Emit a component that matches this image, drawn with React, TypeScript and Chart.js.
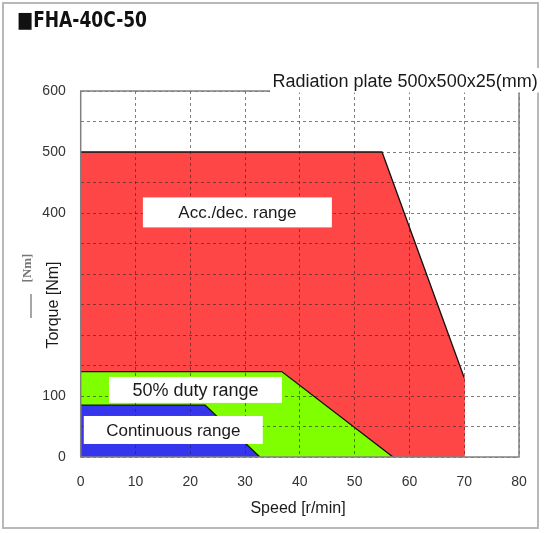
import React, { useEffect, useRef } from 'react';
import { Chart, registerables } from 'chart.js';

Chart.register(...registerables);

// Speed [r/min] vs Torque [Nm] boundaries of each operating range
const accSpeed = [0, 55, 70, 70];
const accTorque = [500, 500, 130, 0];
const dutySpeed = [0, 36.7, 57];
const dutyTorque = [140, 140, 0];
const contSpeed = [0, 22.7, 32.7];
const contTorque = [85, 85, 0];

const xTickValues = [0, 10, 20, 30, 40, 50, 60, 70, 80];
// 200 and 300 are hidden behind the axis title in the reference
const yTickLabels = [0, 100, 400, 500, 600];

const chartTitle = '■FHA-40C-50';
const noteText = 'Radiation plate 500x500x25(mm)';
const xTitle = 'Speed [r/min]';
const yTitle = 'Torque [Nm]';
const rangeLabels = ['Acc./dec. range', '50% duty range', 'Continuous range'];

const RED = '#ff4646';
const GREEN = '#80ff00';
const BLUE = '#3535ee';
const SANS = '"Liberation Sans", Arial, sans-serif';

function toPoints(xs: number[], ys: number[]) {
  return xs.map((x, i) => ({ x, y: ys[i] }));
}

export default function App() {
  const ref = useRef<HTMLCanvasElement | null>(null);

  useEffect(() => {
    if (!ref.current) return;

    const overlay = {
      id: 'overlay',
      afterDraw(chart: any) {
        const { ctx, chartArea: a, scales } = chart;
        const xs = scales.x;
        const ys = scales.y;
        ctx.save();
        ctx.setLineDash([]);
        // plot frame
        ctx.strokeStyle = '#808080';
        ctx.lineWidth = 1.5;
        ctx.strokeRect(a.left, a.top, a.right - a.left, a.bottom - a.top);
        // outer frame
        ctx.strokeStyle = '#b8b8b8';
        ctx.lineWidth = 2;
        ctx.strokeRect(3, 3, 535, 525);

        // title (condensed to the reference width)
        ctx.save();
        ctx.fillStyle = '#111';
        ctx.font = 'bold 22px "DejaVu Sans Condensed", "DejaVu Sans", sans-serif';
        ctx.textAlign = 'left';
        ctx.textBaseline = 'alphabetic';
        const tw = ctx.measureText(chartTitle).width;
        ctx.translate(17, 27);
        ctx.scale(130 / tw, 1);
        ctx.fillText(chartTitle, 0, 0);
        ctx.restore();

        // radiation plate note
        ctx.fillStyle = '#fff';
        ctx.fillRect(270, 68, 276, 24.5);
        ctx.fillStyle = '#1a1a1a';
        ctx.font = '18px ' + SANS;
        ctx.textAlign = 'left';
        ctx.textBaseline = 'alphabetic';
        ctx.fillText(noteText, 272.5, 87);

        // range labels
        const boxes = [
          { x: 28.6, y: 401, w: 189, h: 30 },
          { x: 20.95, y: 110, w: 173, h: 26 },
          { x: 16.9, y: 44.3, w: 179, h: 28 },
        ];
        boxes.forEach((b, i) => {
          const cx = xs.getPixelForValue(b.x);
          const cy = ys.getPixelForValue(b.y);
          ctx.fillStyle = '#fff';
          ctx.fillRect(cx - b.w / 2, cy - b.h / 2, b.w, b.h);
          ctx.fillStyle = '#1a1a1a';
          ctx.font = (i === 1 ? '18px ' : '17px ') + SANS;
          ctx.textAlign = 'center';
          ctx.textBaseline = 'middle';
          ctx.fillText(rangeLabels[i], cx, cy + 1);
        });

        // axis titles
        ctx.fillStyle = '#1a1a1a';
        ctx.font = '16px ' + SANS;
        ctx.textAlign = 'center';
        ctx.textBaseline = 'middle';
        ctx.fillText(xTitle, 298, 509);

        ctx.save();
        ctx.translate(54, 305);
        ctx.rotate(-Math.PI / 2);
        ctx.fillText(yTitle, 0, 0);
        ctx.restore();

        ctx.save();
        ctx.translate(28, 268);
        ctx.rotate(-Math.PI / 2);
        ctx.fillStyle = '#777';
        ctx.font = 'bold 13px "Liberation Serif", serif';
        ctx.fillText('[Nm]', 0, 0);
        ctx.restore();
        ctx.strokeStyle = '#888';
        ctx.lineWidth = 1.5;
        ctx.beginPath();
        ctx.moveTo(31, 294);
        ctx.lineTo(31, 318);
        ctx.stroke();

        ctx.restore();
      },
    };

    const edge = (fill: string) => (c: any) =>
      Math.abs(c.p0.x - c.p1.x) < 0.5 ? fill : '#111';

    const chart = new Chart(ref.current, {
      type: 'scatter',
      data: {
        datasets: [
          {
            label: 'Continuous range',
            data: toPoints(contSpeed, contTorque),
            showLine: true,
            fill: 'origin',
            backgroundColor: BLUE,
            borderColor: '#111',
            borderWidth: 1.3,
            pointRadius: 0,
            segment: { borderColor: edge(BLUE) },
          },
          {
            label: '50% duty range',
            data: toPoints(dutySpeed, dutyTorque),
            showLine: true,
            fill: 'origin',
            backgroundColor: GREEN,
            borderColor: '#111',
            borderWidth: 1.3,
            pointRadius: 0,
            segment: { borderColor: edge(GREEN) },
          },
          {
            label: 'Acc./dec. range',
            data: toPoints(accSpeed, accTorque),
            showLine: true,
            fill: 'origin',
            backgroundColor: RED,
            borderColor: '#111',
            borderWidth: 1.3,
            pointRadius: 0,
            segment: { borderColor: edge(RED) },
          },
        ],
      },
      options: {
        animation: false,
        responsive: false,
        layout: { padding: { left: 0, right: 29, top: 91, bottom: 0 } },
        plugins: { legend: { display: false }, tooltip: { enabled: false } },
        scales: {
          x: {
            type: 'linear',
            min: 0,
            max: 80,
            afterBuildTicks: (s: any) => {
              s.ticks = xTickValues.map((v) => ({ value: v }));
            },
            afterFit: (s: any) => {
              s.height = 76;
            },
            ticks: {
              padding: 17,
              color: '#333',
              font: { family: SANS, size: 14 },
            },
            grid: {
              z: 1,
              drawTicks: false,
              color: 'rgba(40,40,40,0.6)',
              lineWidth: 1,
            },
            border: { display: false, dash: [3, 3] },
          },
          y: {
            type: 'linear',
            min: 0,
            max: 600,
            ticks: {
              stepSize: 50,
              padding: 15,
              color: '#333',
              font: { family: SANS, size: 14 },
              callback: (v: any) => (yTickLabels.includes(Number(v)) ? String(v) : ''),
            },
            afterFit: (s: any) => {
              s.width = 80.7;
            },
            grid: {
              z: 1,
              drawTicks: false,
              color: 'rgba(40,40,40,0.6)',
              lineWidth: 1,
            },
            border: { display: false, dash: [3, 3] },
          },
        },
      },
      plugins: [overlay],
    } as any);

    return () => chart.destroy();
  }, []);

  return (
    <div style={{ position: 'fixed', left: 0, top: 0, width: 548, height: 533, background: '#fff' }}>
      <canvas ref={ref} width={548} height={533} style={{ display: 'block' }} />
    </div>
  );
}
